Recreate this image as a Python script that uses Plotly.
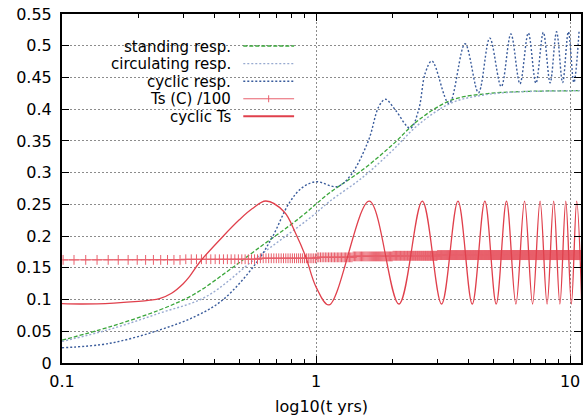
import numpy as np
import plotly.graph_objects as go

# ---- data ----
# standing response
stand_t = [0.1, 0.154, 0.242, 0.33, 0.45, 0.58, 0.858, 1.125, 1.52, 2.0, 2.535, 3.42, 4.6, 6.25, 8.5, 11.1]
stand_v = [0.036, 0.057, 0.0835, 0.108, 0.145, 0.178, 0.228, 0.2674, 0.304, 0.344, 0.383, 0.4145, 0.424, 0.4276, 0.4288, 0.4292]

# circulating response
circ_t = [0.1, 0.154, 0.242, 0.369, 0.58, 0.97, 1.125, 1.52, 2.0, 2.535, 3.42, 4.6, 6.25, 8.5, 11.1]
circ_v = [0.034, 0.053, 0.0785, 0.1045, 0.165, 0.232, 0.254, 0.292, 0.335, 0.376, 0.41, 0.4225, 0.4272, 0.4286, 0.4292]

# cyclic response: first years point by point, then troughs and peaks
cresp_t = [0.1, 0.154, 0.242, 0.337, 0.429, 0.58, 0.674, 0.783, 0.88, 1.0, 1.21, 1.37, 1.61, 1.766,
           1.877, 2.05, 2.35, 2.535, 2.69, 2.86]
cresp_v = [0.024, 0.031, 0.052, 0.074, 0.0993, 0.157, 0.199, 0.2517, 0.276, 0.2857, 0.278, 0.296, 0.351, 0.404,
           0.4156, 0.399, 0.370, 0.399, 0.4566, 0.476]
cresp_trough_t = [3.34, 4.36, 5.36, 6.35, 7.34, 8.35, 9.35, 10.35]
cresp_trough_v = [0.409, 0.426, 0.4355, 0.440, 0.441, 0.4415, 0.442, 0.442]
cresp_peak_t = [3.86, 4.83, 5.85, 6.85, 7.85, 8.85, 9.85, 10.85]
cresp_peak_v = [0.503, 0.512, 0.5185, 0.520, 0.521, 0.522, 0.522, 0.522]

# cyclic Ts: first cycle point by point, then peaks and troughs
cts_t = [0.1, 0.12, 0.16, 0.2, 0.222, 0.242, 0.27, 0.3, 0.318, 0.35, 0.429, 0.5, 0.56, 0.635, 0.75, 0.83, 0.91,
         1.0, 1.125]
cts_v = [0.0935, 0.093, 0.0945, 0.097, 0.0990, 0.1015, 0.110, 0.125, 0.1365, 0.160, 0.199, 0.226, 0.243, 0.2553,
         0.238, 0.205, 0.168, 0.12, 0.0915]
cts_peak_t = [1.62, 2.62, 3.62, 4.62, 5.62, 6.62, 7.62, 8.62, 9.62, 10.62]
cts_peak_v = [0.255, 0.255, 0.255, 0.255, 0.255, 0.255, 0.255, 0.255, 0.255, 0.255]
cts_trough_t = [2.12, 3.12, 4.12, 5.12, 6.12, 7.12, 8.12, 9.12, 10.12, 11.12]
cts_trough_v = [0.093, 0.093, 0.093, 0.093, 0.093, 0.093, 0.093, 0.093, 0.093, 0.093]

# Ts (C)/100: level read over successive time spans
ts_seg_start = [0.1, 0.3, 0.6, 1.0, 1.4, 2.0, 3.0]
ts_seg_value = [0.1625, 0.1635, 0.165, 0.1665, 0.168, 0.169, 0.170]
# model output times (the "+" points): first few read directly, then 1/64 yr steps
ts_first = [0.101, 0.1115, 0.124, 0.1374, 0.152]
ts_step_t = np.concatenate([ts_first, np.arange(0.1665, 11.05, 1 / 64)])

series_names = ["standing resp.", "circulating resp.", "cyclic resp.", "Ts (C) /100", "cyclic Ts"]


def merged(t, v, *pairs):
    """join point lists and sort them by time"""
    tt, vv = list(t), list(v)
    for a, b in pairs:
        tt += a
        vv += b
    order = np.argsort(tt)
    return np.array(tt)[order], np.array(vv)[order]


cresp_x, cresp_y = merged(cresp_t, cresp_v, (cresp_trough_t, cresp_trough_v), (cresp_peak_t, cresp_peak_v))
cts_x, cts_y = merged(cts_t, cts_v, (cts_peak_t, cts_peak_v), (cts_trough_t, cts_trough_v))
idx = np.searchsorted(ts_seg_start, ts_step_t, side="right") - 1
ts_y = np.array(ts_seg_value)[idx]

GREEN = "#3aa63a"
LIGHTBLUE = "#98aad0"
DARKBLUE = "#3a5c9c"
RED_TS = "#e8606c"
RED_CYC = "#e0404c"

fig = go.Figure()
fig.add_trace(go.Scatter(x=stand_t, y=stand_v, mode="lines", name=series_names[0],
                         line=dict(color=GREEN, width=1.3, dash="4px,2px", shape="spline")))
fig.add_trace(go.Scatter(x=circ_t, y=circ_v, mode="lines", name=series_names[1],
                         line=dict(color=LIGHTBLUE, width=1.4, dash="2px,2px", shape="spline")))
fig.add_trace(go.Scatter(x=cresp_x, y=cresp_y, mode="lines", name=series_names[2],
                         line=dict(color=DARKBLUE, width=1.4, dash="2px,2px", shape="spline")))
fig.add_trace(go.Scatter(x=ts_step_t, y=ts_y, mode="lines+markers", name=series_names[3],
                         line=dict(color=RED_TS, width=1),
                         marker=dict(symbol="cross-thin", size=7, line=dict(color=RED_TS, width=1))))
fig.add_trace(go.Scatter(x=cts_x, y=cts_y, mode="lines", name=series_names[4],
                         line=dict(color=RED_CYC, width=1.3, shape="spline")))

# gnuplot style key: right aligned text with the sample to its right
key_styles = [
    dict(color=GREEN, width=1.3, dash="4px,2px"),
    dict(color=LIGHTBLUE, width=1.4, dash="2px,2px"),
    dict(color=DARKBLUE, width=1.4, dash="2px,2px"),
    dict(color=RED_TS, width=1),
    dict(color=RED_CYC, width=2),
]
key_top, key_step = 0.9083, 0.0504
for i, (name, st) in enumerate(zip(series_names, key_styles)):
    ky = key_top - i * key_step
    fig.add_annotation(x=0.3282, y=ky, xref="paper", yref="paper", text=name, showarrow=False,
                       xanchor="right", yanchor="middle", height=17, borderpad=0, font=dict(size=15))
    fig.add_shape(type="line", xref="paper", yref="paper", x0=0.3493, x1=0.4472, y0=ky, y1=ky, line=st)
    if i == 3:
        fig.add_shape(type="line", xref="paper", yref="paper", x0=0.3982, x1=0.3982,
                      y0=ky - 0.01, y1=ky + 0.01, line=dict(color=RED_TS, width=1))

axis_common = dict(showline=True, linewidth=2, linecolor="black", mirror="ticks",
                   ticks="inside", tickcolor="black", ticklen=7, tickwidth=1,
                   showgrid=True, gridcolor="#8c8c8c", gridwidth=1, griddash="2px,2px",
                   zeroline=False, tickfont=dict(size=16, color="black"))

fig.update_xaxes(type="log", range=[-1, 1.0431], dtick=1,
                 minor=dict(dtick="D1", ticks="inside", ticklen=4, tickcolor="black", showgrid=False),
                 title=dict(text="log10(t yrs)", font=dict(size=16, color="black"), standoff=12),
                 ticklabelstandoff=3,
                 **axis_common)
fig.update_yaxes(range=[0, 0.55], dtick=0.05, ticklabelstandoff=5, **axis_common)

fig.update_layout(
    width=585, height=416,
    margin=dict(l=62, r=2, t=14, b=53),
    plot_bgcolor="white", paper_bgcolor="white",
    showlegend=False,
    font=dict(family="DejaVu Sans, sans-serif", size=16, color="black"),
)

# page body margin would shift the figure by 8px
fig.write_html("out.html", config={"displayModeBar": False},
               post_script="document.body.style.margin='0';")
